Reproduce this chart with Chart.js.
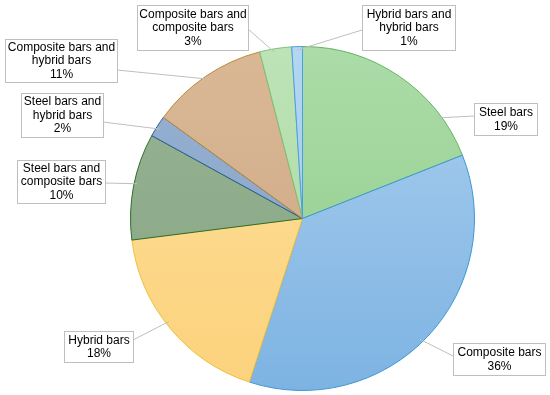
<!DOCTYPE html>
<html>
<head>
<meta charset="utf-8">
<script src="https://cdn.jsdelivr.net/npm/chart.js@4.4.1/dist/chart.umd.min.js"></script>
<style>
  html, body { margin: 0; padding: 0; background: #ffffff; }
  #wrap { width: 550px; height: 395px; position: relative; }
</style>
</head>
<body>
<div id="wrap"><canvas id="pieChart"></canvas></div>
<script>
// dados do gráfico
const categories = [
  'Steel bars',
  'Composite bars',
  'Hybrid bars',
  'Steel bars and composite bars',
  'Steel bars and hybrid bars',
  'Composite bars and hybrid bars',
  'Composite bars and composite bars',
  'Hybrid bars and hybrid bars'
];
const percentages = [19, 36, 18, 10, 2, 11, 3, 1];

// cores: topo, base do gradiente e borda
const topColors = ['#acdca8', '#abcfef', '#fde09c', '#97b494', '#97b1d4', '#dab896', '#bde3b6', '#b3d6f2'];
const bottomColors = ['#8dcb89', '#7db3e2', '#fcd27c', '#86a582', '#86a1c6', '#cca683', '#a9d8a2', '#9ec9ec'];
const borderColors = ['#62b55f', '#3a98d4', '#efc13a', '#2e6b2e', '#2b5f91', '#b88a30', '#7cc27a', '#4a9fe0'];

// caixas dos rótulos [x0, y0, x1, y1], ponto de saída da linha, posição no setor
const labelBoxes = [
  { box: [474, 103, 537, 135], from: [474, 116], frac: 0.78 },
  { box: [453, 343, 545, 375], from: [453, 356], frac: 0.52 },
  { box: [64, 331, 133, 362], from: [133, 340], frac: 0.53 },
  { box: [17, 160, 105, 203], from: [105, 183], frac: 0.53 },
  { box: [21, 93, 103, 137], from: [103, 122], frac: 0.45 },
  { box: [5, 39, 117, 82], from: [117, 70], frac: 0.5 },
  { box: [137, 5, 248, 50], from: [248, 29], frac: 0.45 },
  { box: [362, 5, 455, 50], from: [362, 30], frac: 0.5 }
];

function makeGradient(ctx, i) {
  const area = ctx.chart.chartArea;
  if (!area) return topColors[i];
  const g = ctx.chart.ctx.createLinearGradient(0, area.top, 0, area.bottom);
  g.addColorStop(0, topColors[i]);
  g.addColorStop(1, bottomColors[i]);
  return g;
}

// plugin para desenhar caixas de rótulo com linhas de chamada
const calloutPlugin = {
  id: 'callouts',
  afterDatasetsDraw(chart) {
    const ctx = chart.ctx;
    const arcs = chart.getDatasetMeta(0).data;
    ctx.save();
    arcs.forEach((arc, i) => {
      const cfg = labelBoxes[i];
      const p = arc.getProps(['x', 'y', 'startAngle', 'endAngle', 'outerRadius'], true);
      const ang = p.startAngle + (p.endAngle - p.startAngle) * cfg.frac;
      const r = p.outerRadius * 0.98;
      const ax = p.x + Math.cos(ang) * r;
      const ay = p.y + Math.sin(ang) * r;

      // linha de chamada
      ctx.strokeStyle = '#bfbfbf';
      ctx.lineWidth = 1;
      ctx.beginPath();
      ctx.moveTo(cfg.from[0], cfg.from[1]);
      ctx.lineTo(ax, ay);
      ctx.stroke();

      // caixa
      const [x0, y0, x1, y1] = cfg.box;
      ctx.fillStyle = '#ffffff';
      ctx.fillRect(x0 + 0.5, y0 + 0.5, x1 - x0, y1 - y0);
      ctx.strokeStyle = '#bfbfbf';
      ctx.strokeRect(x0 + 0.5, y0 + 0.5, x1 - x0, y1 - y0);

      // texto
      const lines = categories[i].replace(' and ', ' and\n').split('\n');
      lines.push(percentages[i] + '%');
      ctx.fillStyle = '#000000';
      ctx.font = '12px "Liberation Sans", Arial, sans-serif';
      ctx.textAlign = 'center';
      ctx.textBaseline = 'middle';
      const lh = 13.6;
      const cx = (x0 + x1) / 2 + 0.5;
      const cy = (y0 + y1) / 2 + 0.5;
      lines.forEach((t, k) => {
        ctx.fillText(t, cx, cy + (k - (lines.length - 1) / 2) * lh);
      });
    });
    ctx.restore();
  }
};

new Chart(document.getElementById('pieChart'), {
  type: 'pie',
  data: {
    labels: categories,
    datasets: [{
      data: percentages,
      backgroundColor: (ctx) => makeGradient(ctx, ctx.dataIndex),
      borderColor: borderColors,
      borderWidth: 1
    }]
  },
  options: {
    responsive: true,
    maintainAspectRatio: false,
    animation: false,
    layout: { padding: { left: 130, right: 75, top: 46, bottom: 4 } },
    plugins: {
      legend: { display: false },
      tooltip: { enabled: false }
    }
  },
  plugins: [calloutPlugin]
});
</script>
</body>
</html>
